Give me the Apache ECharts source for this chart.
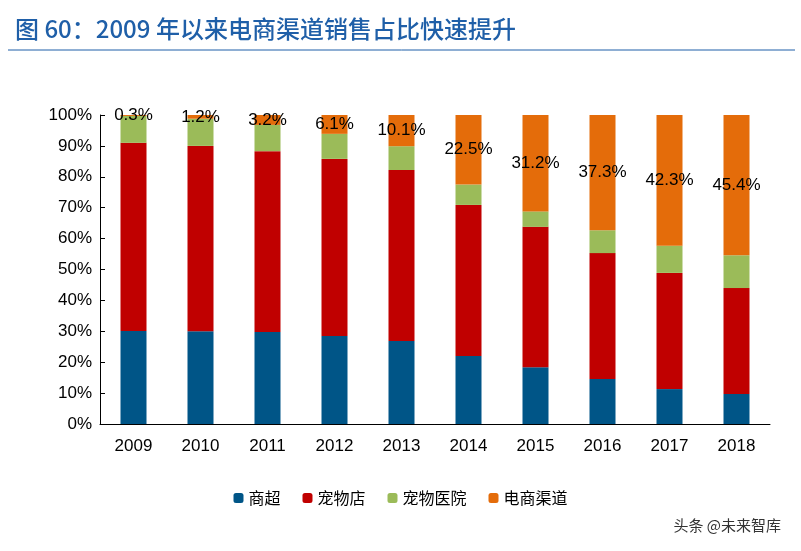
<!DOCTYPE html>
<html><head><meta charset="utf-8">
<script src="https://cdn.jsdelivr.net/npm/echarts@6/dist/echarts.min.js"></script>
<style>html,body{margin:0;background:#fff}#c{width:801px;height:551px}</style>
</head><body><div id="c"></div>
<script>
const years = ['2009','2010','2011','2012','2013','2014','2015','2016','2017','2018'];
const supermarket = [30.1,30.0,29.8,28.5,26.9,22.0,18.4,14.6,11.3,9.7];
const petStore = [60.9,60.0,58.5,57.3,55.3,48.9,45.4,40.7,37.6,34.3];
const petHospital = [8.7,8.8,8.5,8.1,7.7,6.6,5.0,7.4,8.8,10.6];
const ecommerce = [0.3,1.2,3.2,6.1,10.1,22.5,31.2,37.3,42.3,45.4];
const yTicks = ['0%','10%','20%','30%','40%','50%','60%','70%','80%','90%','100%'];
const font = '"Noto Sans CJK SC", Arial, sans-serif';
const chart = echarts.init(document.getElementById('c'));
function s(name, data, color, extra) {
  return Object.assign({name, type:'bar', stack:'a', data, barWidth:26, itemStyle:{color}}, extra||{});
}
chart.setOption({
  animation:false,
  textStyle:{fontFamily:font},
  title:{text:'图 60：2009 年以来电商渠道销售占比快速提升', left:10, top:12,
    textStyle:{color:'#1f5fa8', fontSize:24, fontWeight:500, fontFamily:font}},
  graphic:[
    {type:'line', shape:{x1:8,y1:50,x2:795,y2:50}, style:{stroke:'#1f5fa8', lineWidth:1}},
    {type:'text', right:20, bottom:18, style:{text:'头条 @未来智库', fontSize:15, fill:'#333', fontFamily:font}}
  ],
  legend:{bottom:40, left:'center', itemWidth:10, itemHeight:10, itemGap:22,
    textStyle:{fontSize:16, color:'#000', fontFamily:font},
    data:['商超','宠物店','宠物医院','电商渠道']},
  grid:{left:100, right:31, top:115, bottom:127},
  xAxis:{type:'category', data:years, axisTick:{show:false},
    axisLine:{lineStyle:{color:'#000'}},
    axisLabel:{fontSize:17, color:'#000', margin:14, fontFamily:'Arial'}},
  yAxis:{type:'value', min:0, max:100, interval:10, splitLine:{show:false},
    axisLine:{show:true, lineStyle:{color:'#000'}}, axisTick:{show:true, inside:true},
    axisLabel:{fontSize:17, color:'#000', fontFamily:'Arial', formatter:v=>yTicks[Math.round(v/10)]}},
  series:[
    s('商超', supermarket, '#005587'),
    s('宠物店', petStore, '#c00000'),
    s('宠物医院', petHospital, '#9bbb59'),
    s('电商渠道', ecommerce, '#e46c0a', {label:{show:true, position:'inside', fontSize:17, color:'#000', fontFamily:'Arial', formatter:p=>p.value.toFixed(1)+'%'}})
  ]
});
</script></body></html>
